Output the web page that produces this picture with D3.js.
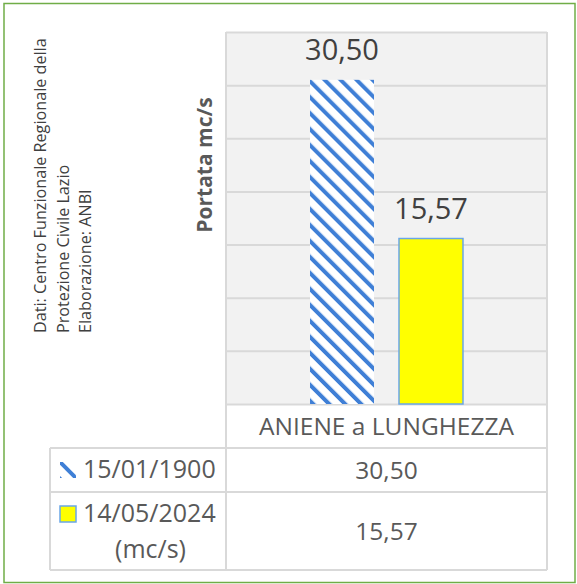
<!DOCTYPE html>
<html>
<head>
<meta charset="utf-8">
<script src="https://cdn.jsdelivr.net/npm/d3@7"></script>
<style>
  html, body { margin: 0; padding: 0; background: #ffffff; }
  svg { display: block; font-family: "Open Sans", "Noto Sans", sans-serif; }
</style>
</head>
<body>
<svg id="chart" width="577" height="584"></svg>
<script>
// Portata (mc/s) dell'Aniene a Lunghezza, due date a confronto
const categories = ["ANIENE a LUNGHEZZA"];
const seriesNames = ["15/01/1900", "14/05/2024"];
const seriesValues = [[30.50], [15.57]];
const seriesLabels = ["15/01/1900", "14/05/2024\n(mc/s)"];
const yTicks = [0, 5, 10, 15, 20, 25, 30, 35];
const sourceLines = [
  "Dati: Centro Funzionale Regionale della",
  "Protezione Civile Lazio",
  "Elaborazione: ANBI"
];
const yTitle = "Portata mc/s";

const fmt = v => v.toFixed(2).replace(".", ",");

const svg = d3.select("#chart");

const plot = { left: 226, right: 547, top: 32, bottom: 404 };
const table = { left: 50, rowH: [44, 44, 78] };

const gridColor = "#d9d9d9";
const textColor = "#595959";
const labelColor = "#404040";
const hatchBlue = "#3f7fd6";

// hatch pattern for the first series
const defs = svg.append("defs");
const pat = defs.append("pattern")
  .attr("id", "hatch")
  .attr("patternUnits", "userSpaceOnUse")
  .attr("width", 11.3).attr("height", 11.3)
  .attr("patternTransform", "rotate(-45)");
pat.append("rect").attr("width", 11.3).attr("height", 11.3).attr("fill", "#ffffff");
pat.append("rect").attr("x", 0).attr("width", 4).attr("height", 11.3).attr("fill", hatchBlue);

const fills = ["url(#hatch)", "#ffff00"];
const strokes = ["none", "#6aa6e8"];

// outer frame
svg.append("rect")
  .attr("x", 4).attr("y", 3.5).attr("width", 571).attr("height", 579)
  .attr("fill", "#ffffff").attr("stroke", "#70ad47").attr("stroke-width", 1.5);

// scales
const y = d3.scaleLinear().domain([0, 35]).range([plot.bottom, plot.top]);
const x0 = d3.scaleBand().domain(categories).range([plot.left, plot.right]).padding(0);
const x1 = d3.scaleBand().domain(seriesNames).range([0, x0.bandwidth()])
  .paddingInner(0.281).paddingOuter(0.944);

// plot background
svg.append("rect")
  .attr("x", plot.left).attr("y", plot.top)
  .attr("width", plot.right - plot.left).attr("height", plot.bottom - plot.top)
  .attr("fill", "#f2f2f2");

// gridlines via axis
const yAxis = d3.axisLeft(y).tickValues(yTicks).tickSize(-(plot.right - plot.left)).tickFormat("");
const gAxis = svg.append("g").attr("transform", `translate(${plot.left},0)`).call(yAxis);
gAxis.select(".domain").remove();
gAxis.selectAll(".tick line").attr("stroke", gridColor).attr("stroke-width", 2);

// bars
const catG = svg.append("g").selectAll("g")
  .data(categories)
  .join("g")
  .attr("transform", d => `translate(${x0(d)},0)`);

seriesNames.forEach((s, i) => {
  catG.append("rect")
    .attr("x", x1(s))
    .attr("y", (d, j) => y(seriesValues[i][j]))
    .attr("width", x1.bandwidth())
    .attr("height", (d, j) => y(0) - y(seriesValues[i][j]))
    .attr("fill", fills[i])
    .attr("stroke", strokes[i])
    .attr("stroke-width", 1.5);
  catG.append("text")
    .attr("x", x1(s) + x1.bandwidth() / 2)
    .attr("y", (d, j) => y(seriesValues[i][j]) - 20)
    .attr("text-anchor", "middle")
    .attr("font-size", 29)
    .attr("fill", labelColor)
    .text((d, j) => fmt(seriesValues[i][j]));
});

// data table
const r0 = plot.bottom, r1 = r0 + table.rowH[0], r2 = r1 + table.rowH[1], r3 = r2 + table.rowH[2];
const lines = svg.append("g").attr("stroke", gridColor).attr("stroke-width", 2).attr("fill", "none");
lines.append("line").attr("x1", plot.left).attr("x2", plot.left).attr("y1", plot.top).attr("y2", r3);
lines.append("line").attr("x1", plot.right).attr("x2", plot.right).attr("y1", plot.top).attr("y2", r3);
lines.append("line").attr("x1", table.left).attr("x2", table.left).attr("y1", r1).attr("y2", r3);
lines.append("line").attr("x1", table.left).attr("x2", plot.right).attr("y1", r1).attr("y2", r1);
lines.append("line").attr("x1", table.left).attr("x2", plot.right).attr("y1", r2).attr("y2", r2);
lines.append("line").attr("x1", table.left).attr("x2", plot.right).attr("y1", r3).attr("y2", r3);

// category header
svg.append("g").selectAll("text")
  .data(categories)
  .join("text")
  .attr("x", d => x0(d) + x0.bandwidth() / 2)
  .attr("y", r0 + 31)
  .attr("text-anchor", "middle")
  .attr("font-size", 24.5)
  .attr("fill", textColor)
  .text(d => d);

// table rows
const rowBaselines = [r1 + 31, r2 + 48];
seriesNames.forEach((s, i) => {
  catG.append("text")
    .attr("x", x0.bandwidth() / 2)
    .attr("y", rowBaselines[i])
    .attr("text-anchor", "middle")
    .attr("font-size", 24.5)
    .attr("fill", textColor)
    .text((d, j) => fmt(seriesValues[i][j]));
});

// legend keys
const keySize = 16;
const keyX = 60;
const keyTops = [r1 + 14, r2 + 14];
seriesNames.forEach((s, i) => {
  if (i === 0) {
    const kg = svg.append("g");
    kg.append("clipPath").attr("id", "keyclip")
      .append("rect").attr("x", keyX).attr("y", keyTops[i]).attr("width", keySize).attr("height", keySize);
    kg.append("line")
      .attr("x1", keyX).attr("y1", keyTops[i])
      .attr("x2", keyX + keySize).attr("y2", keyTops[i] + keySize)
      .attr("stroke", hatchBlue).attr("stroke-width", 4)
      .attr("clip-path", "url(#keyclip)");
    kg.append("line")
      .attr("x1", keyX - 2).attr("y1", keyTops[i] + keySize - 2)
      .attr("x2", keyX + 2).attr("y2", keyTops[i] + keySize + 2)
      .attr("stroke", hatchBlue).attr("stroke-width", 3)
      .attr("clip-path", "url(#keyclip)");
  } else {
    svg.append("rect")
      .attr("x", keyX).attr("y", keyTops[i])
      .attr("width", keySize).attr("height", keySize)
      .attr("fill", fills[i]).attr("stroke", strokes[i]).attr("stroke-width", 1.5);
  }
});

// legend labels
const legendText = svg.append("g").attr("font-size", 25).attr("fill", textColor);
legendText.append("text").attr("x", 83).attr("y", r1 + 30).text(seriesLabels[0]);
const l2 = seriesLabels[1].split("\n");
legendText.append("text").attr("x", 83).attr("y", r2 + 30).text(l2[0]);
legendText.append("text").attr("x", 150.5).attr("y", r2 + 66).attr("text-anchor", "middle").text(l2[1]);

// y title
svg.append("text")
  .attr("transform", `translate(212,165) rotate(-90)`)
  .attr("text-anchor", "middle")
  .attr("font-size", 21)
  .attr("font-weight", "bold")
  .attr("fill", textColor)
  .text(yTitle);

// source note
const src = svg.append("text")
  .attr("transform", `translate(46,333) rotate(-90)`)
  .attr("font-size", 16.2)
  .attr("fill", labelColor);
sourceLines.forEach((t, i) => {
  src.append("tspan").attr("x", 0).attr("y", i * 22.5).text(t);
});
</script>
</body>
</html>
